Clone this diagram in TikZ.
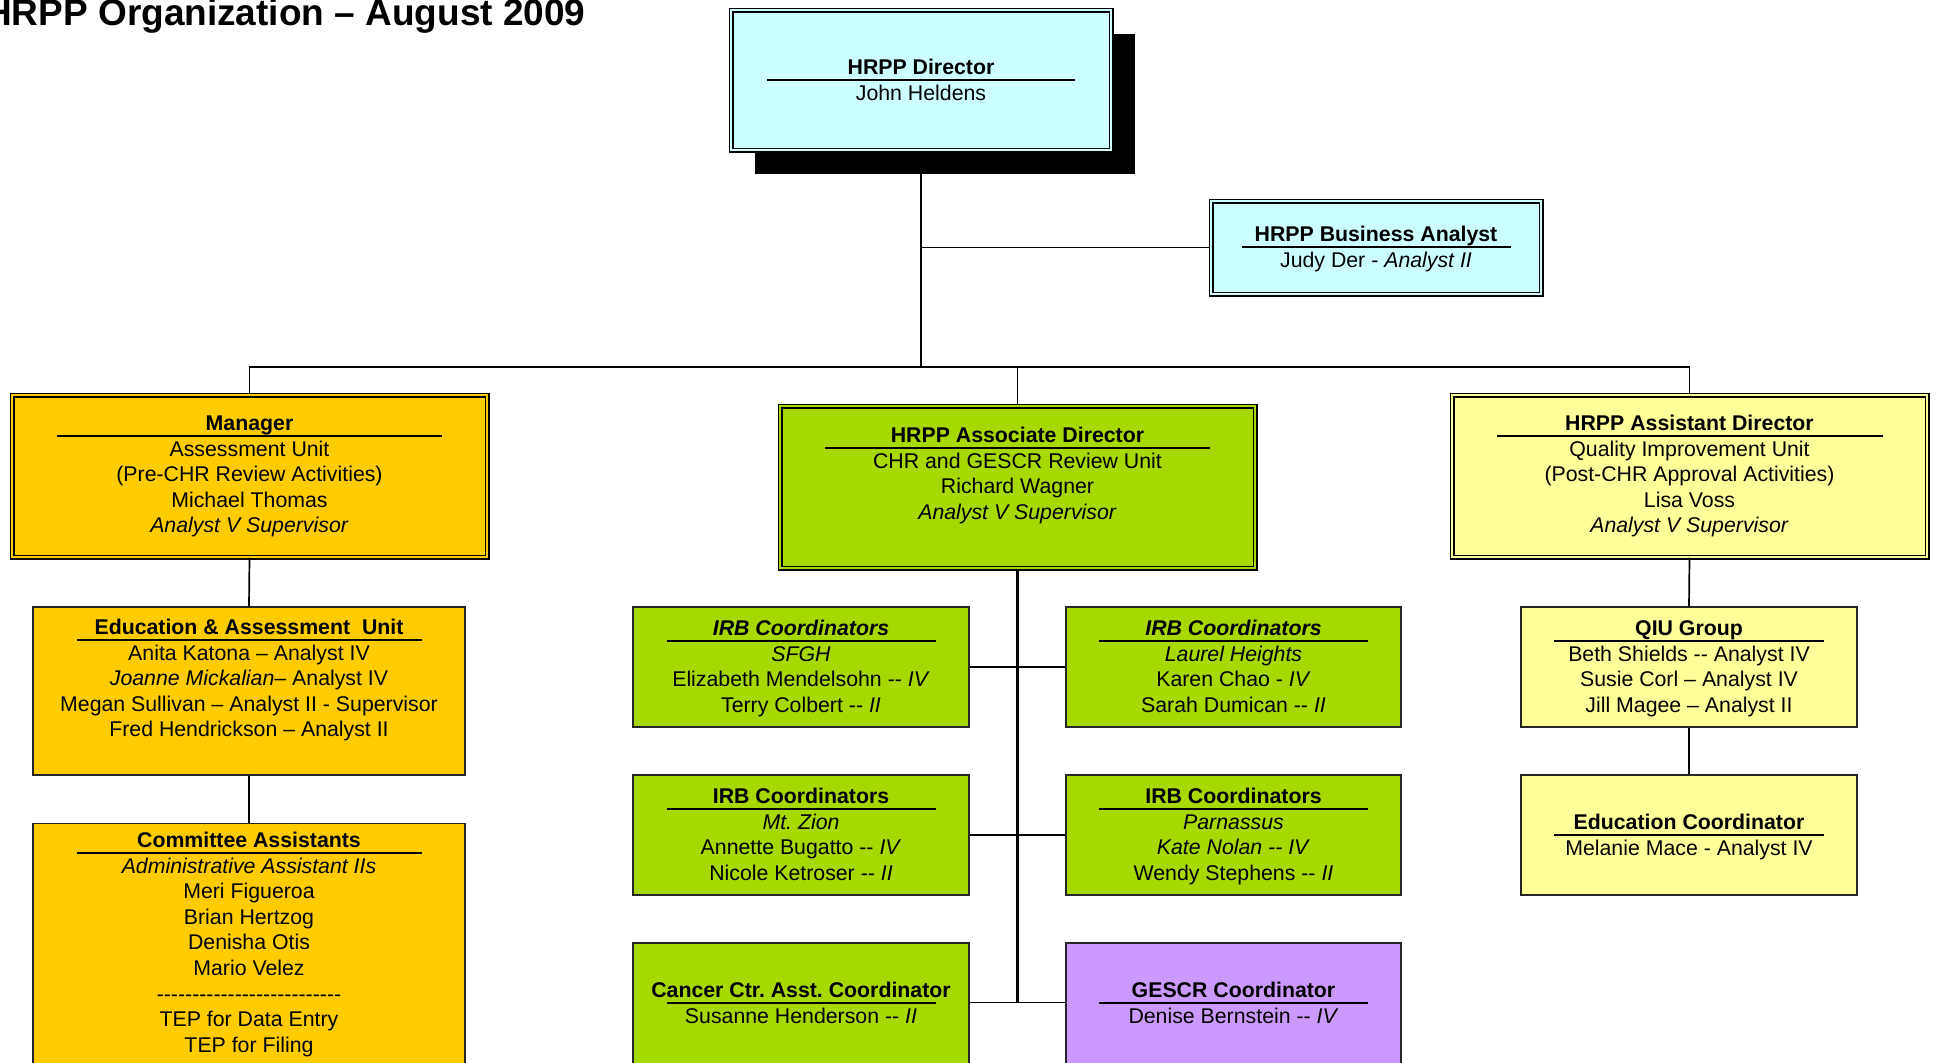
\documentclass[tikz,border=0pt]{standalone}
\usepackage{fontspec}
\setmainfont{Liberation Sans}
\usetikzlibrary{shadows}
\definecolor{cyanfill}{HTML}{CCFFFF}
\definecolor{orangefill}{HTML}{FFCC00}
\definecolor{greenfill}{HTML}{A6D900}
\definecolor{yellowfill}{HTML}{FFFF99}
\definecolor{purplefill}{HTML}{CC99FF}
\newcommand\bodyfs{\fontsize{21.3}{25.6}\selectfont\frenchspacing}
\newcommand\orgtext[6]{%
  \node[ttl] (#1t) at (#2,#3+1.5) {#4};
  \draw[uline] (#2-#5,#3+7) -- (#2+#5,#3+7);
  \foreach \l [count=\i] in {#6} {\node[txt] (#1\i) at (#2,#3+1.5+\i*25.6) {\l};}
}
\tikzset{
  sbox/.style={draw=black!85, line width=1.4pt, inner sep=0pt},
  dbox/.style={draw=black, line width=1.2pt, double distance=2.6pt, inner sep=0pt},
  ttl/.style={font=\bodyfs\bfseries, anchor=base, inner sep=0pt},
  txt/.style={font=\bodyfs, anchor=base, inner sep=0pt},
  uline/.style={line width=1.6pt},
  link/.style={line width=1.7pt},
  spine/.style={line width=2.4pt},
}
\begin{document}
\frenchspacing
\begin{tikzpicture}[x=1pt,y=-1pt]
\useasboundingbox (0,0) rectangle (1936,1063);
\fill[white] (0,0) rectangle (1936,1063);

% title
\node[font=\fontsize{37}{44}\selectfont\bfseries, anchor=base west, inner sep=0pt] (title) at (-15,25) {HRPP Organization – August 2009};

% boxes
\node[dbox, fill=cyanfill, double=cyanfill, minimum width=380pt, minimum height=140pt,
  drop shadow={shadow xshift=24pt, shadow yshift=-24pt, fill=black, opacity=1}] (dir) at (921,80) {};
\node[dbox, fill=cyanfill, double=cyanfill, minimum width=330pt, minimum height=93pt] (ba) at (1376,247.5) {};
\node[dbox, fill=orangefill, double=orangefill, minimum width=475pt, minimum height=162pt] (mgr) at (249.5,476) {};
\node[dbox, fill=greenfill, double=greenfill, minimum width=475pt, minimum height=162pt] (assoc) at (1017.5,487) {};
\node[dbox, fill=yellowfill, double=yellowfill, minimum width=475pt, minimum height=162pt] (asst) at (1689.5,476) {};
\node[sbox, fill=orangefill, minimum width=432pt, minimum height=168pt] (edu) at (249,691) {};
\node[sbox, fill=orangefill, minimum width=432pt, minimum height=251pt] (comm) at (249,949) {};
\node[sbox, fill=greenfill, minimum width=336pt, minimum height=120pt] (irba) at (801,667) {};
\node[sbox, fill=greenfill, minimum width=335pt, minimum height=120pt] (irbb) at (1233.5,667) {};
\node[sbox, fill=greenfill, minimum width=336pt, minimum height=120pt] (irbc) at (801,835) {};
\node[sbox, fill=greenfill, minimum width=335pt, minimum height=120pt] (irbd) at (1233.5,835) {};
\node[sbox, fill=greenfill, minimum width=336pt, minimum height=132pt] (canc) at (801,1009) {};
\node[sbox, fill=purplefill, minimum width=335pt, minimum height=132pt] (gescr) at (1233.5,1009) {};
\node[sbox, fill=yellowfill, minimum width=336pt, minimum height=120pt] (qiu) at (1689,667) {};
\node[sbox, fill=yellowfill, minimum width=336pt, minimum height=120pt] (educ) at (1689,835) {};

% connectors
\coordinate (bar) at (921,367);
\draw[spine] (dir.south) -- (bar);
\draw[link] (ba.west) -- (ba.west -| dir.south);
\draw[link] (mgr.north) |- (bar) -| (asst.north);
\draw[link] (assoc.north) -- (assoc.north |- bar);
\draw[link] (mgr.south) -- (edu.north);
\draw[link] (edu.south) -- (comm.north);
\draw[link] (asst.south) -- (qiu.north);
\draw[link] (qiu.south) -- (educ.north);
\coordinate (spinebot) at ([yshift=6.5pt]canc.east -| assoc.south);
\draw[spine] (assoc.south) -- (spinebot);
\draw[link] (irba.east) -- (irbb.west);
\draw[link] (irbc.east) -- (irbd.west);
\draw[link] ([yshift=6.5pt]canc.east) -- ([yshift=6.5pt]gescr.west);

% texts
\orgtext{dirt}{921}{73}{HRPP Director}{154}{{John Heldens}}
\orgtext{bat}{1376}{240}{HRPP Business Analyst}{134.5}{{Judy Der - \textit{Analyst II}}}
\orgtext{mgrt}{249.5}{429}{Manager}{192.5}{{Assessment Unit},{(Pre-CHR Review Activities)},{Michael Thomas},{\textit{Analyst V Supervisor}}}
\orgtext{assoct}{1017.5}{441}{HRPP Associate Director}{192.5}{{CHR and GESCR Review Unit},{Richard Wagner},{\textit{Analyst V Supervisor}}}
\orgtext{asstt}{1689.5}{429}{HRPP Assistant Director}{193}{{Quality Improvement Unit},{(Post-CHR Approval Activities)},{Lisa Voss},{\textit{Analyst V Supervisor}}}
\orgtext{edut}{249}{633}{Education \& Assessment\ \ Unit}{172.5}{{Anita Katona – Analyst IV},{\textit{Joanne Mickalian}– Analyst IV},{Megan Sullivan – Analyst II - Supervisor},{Fred Hendrickson – Analyst II}}
\orgtext{commt}{249}{846}{Committee Assistants}{172.5}{{\textit{Administrative Assistant IIs}},{Meri Figueroa},{Brian Hertzog},{Denisha Otis},{Mario Velez},{-{}-{}-{}-{}-{}-{}-{}-{}-{}-{}-{}-{}-{}-{}-{}-{}-{}-{}-{}-{}-{}-{}-{}-{}-{}-},{TEP for Data Entry},{TEP for Filing}}
\orgtext{irbat}{801}{634}{\textit{IRB Coordinators}}{134.5}{{\textit{SFGH}},{Elizabeth Mendelsohn -{}- \textit{IV}},{Terry Colbert -{}- \textit{II}}}
\orgtext{irbbt}{1233.5}{634}{\textit{IRB Coordinators}}{134.5}{{\textit{Laurel Heights}},{Karen Chao - \textit{IV}},{Sarah Dumican -{}- \textit{II}}}
\orgtext{irbct}{801}{802}{IRB Coordinators}{134.5}{{\textit{Mt. Zion}},{Annette Bugatto -{}- \textit{IV}},{Nicole Ketroser -{}- \textit{II}}}
\orgtext{irbdt}{1233.5}{802}{IRB Coordinators}{134.5}{{\textit{Parnassus}},{\textit{Kate Nolan -{}- IV}},{Wendy Stephens -{}- \textit{II}}}
\orgtext{canct}{801}{996}{Cancer Ctr. Asst. Coordinator}{134.5}{{Susanne Henderson -{}- \textit{II}}}
\orgtext{gescrt}{1233.5}{996}{GESCR Coordinator}{134.5}{{Denise Bernstein -{}- \textit{IV}}}
\orgtext{qiut}{1689}{634}{QIU Group}{135}{{Beth Shields -{}- Analyst IV},{Susie Corl – Analyst IV},{Jill Magee – Analyst II}}
\orgtext{educt}{1689}{828}{Education Coordinator}{135}{{Melanie Mace - Analyst IV}}
\end{tikzpicture}
\end{document}
